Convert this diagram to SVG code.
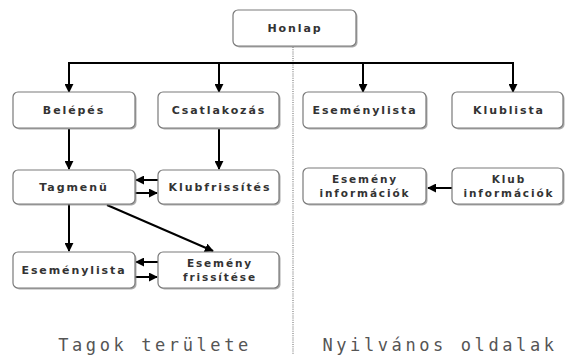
<svg xmlns="http://www.w3.org/2000/svg" width="566" height="357" viewBox="0 0 566 357">
<style>
.sh{fill:#8a8a8a;opacity:0.7}
.bx{fill:#fff;stroke:#7a7a7a;stroke-width:1.2}
.t{font-family:"DejaVu Sans",sans-serif;font-weight:bold;font-size:11px;fill:#333;text-anchor:middle;letter-spacing:1.9px}
.ts{font-family:"DejaVu Sans",sans-serif;font-weight:bold;font-size:10.5px;fill:#333;text-anchor:middle;letter-spacing:1.9px}
.c{stroke:#000;stroke-width:2;fill:none}
.big{font-family:"DejaVu Sans Mono",monospace;font-size:17px;fill:#555;text-anchor:middle;letter-spacing:3.6px}
</style>
<defs>
<marker id="ah" viewBox="0 0 10 10" refX="9" refY="5" markerWidth="4.5" markerHeight="4.5" orient="auto" markerUnits="strokeWidth">
<path d="M0,0 L10,5 L0,10 z" fill="#000"/>
</marker>
</defs>
<rect width="566" height="357" fill="#fff"/>
<line x1="293" y1="47" x2="293" y2="355" stroke="#999" stroke-width="1.5" stroke-dasharray="1,1.2"/>
<g id="connectors">
<path class="c" d="M69,92 V63 H513 V92" marker-end="url(#ah)"/>
<path class="c" d="M69,63 V92" marker-end="url(#ah)"/>
<path class="c" d="M219,63 V92" marker-end="url(#ah)"/>
<path class="c" d="M363,63 V92" marker-end="url(#ah)"/>
<path class="c" d="M69,129 V169" marker-end="url(#ah)"/>
<path class="c" d="M219,129 V169" marker-end="url(#ah)"/>
<path class="c" d="M158,180 H136" marker-end="url(#ah)"/>
<path class="c" d="M135,193 H157" marker-end="url(#ah)"/>
<path class="c" d="M69,204 V251" marker-end="url(#ah)"/>
<path class="c" d="M107,205 L213,251" marker-end="url(#ah)"/>
<path class="c" d="M158,262 H136" marker-end="url(#ah)"/>
<path class="c" d="M135,277 H157" marker-end="url(#ah)"/>
<path class="c" d="M452,188 H428" marker-end="url(#ah)"/>
</g>
<g id="honlap"><rect class="sh" x="234.5" y="11.5" width="123" height="36" rx="5"/><rect class="bx" x="233" y="10" width="123" height="36" rx="5"/><text class="t" x="295" y="32">Honlap</text></g>
<g id="belepes"><rect class="sh" x="14.5" y="93.5" width="122" height="36" rx="5"/><rect class="bx" x="13" y="92" width="122" height="36" rx="5"/><text class="t" x="74" y="114">Belépés</text></g>
<g id="csatlakozas"><rect class="sh" x="159.5" y="93.5" width="121" height="36" rx="5"/><rect class="bx" x="158" y="92" width="121" height="36" rx="5"/><text class="t" x="219" y="114">Csatlakozás</text></g>
<g id="esemenylista-pub"><rect class="sh" x="304.5" y="93.5" width="123" height="36" rx="5"/><rect class="bx" x="303" y="92" width="123" height="36" rx="5"/><text class="t" x="365" y="114">Eseménylista</text></g>
<g id="klublista"><rect class="sh" x="453.5" y="93.5" width="111" height="36" rx="5"/><rect class="bx" x="452" y="92" width="111" height="36" rx="5"/><text class="t" x="509" y="114">Klublista</text></g>
<g id="tagmenu"><rect class="sh" x="14.5" y="171.5" width="122" height="34" rx="5"/><rect class="bx" x="13" y="170" width="122" height="34" rx="5"/><text class="t" x="74" y="191">Tagmenü</text></g>
<g id="klubfrissites"><rect class="sh" x="159.5" y="171.5" width="121" height="34" rx="5"/><rect class="bx" x="158" y="170" width="121" height="34" rx="5"/><text class="t" x="220" y="191">Klubfrissítés</text></g>
<g id="esemeny-info"><rect class="sh" x="304.5" y="169.5" width="123" height="36" rx="5"/><rect class="bx" x="303" y="168" width="123" height="36" rx="5"/><text class="ts" x="365" y="183">Esemény</text><text class="ts" x="365" y="197">információk</text></g>
<g id="klub-info"><rect class="sh" x="453.5" y="169.5" width="111" height="36" rx="5"/><rect class="bx" x="452" y="168" width="111" height="36" rx="5"/><text class="ts" x="509" y="183">Klub</text><text class="ts" x="509" y="197">információk</text></g>
<g id="esemenylista-tag"><rect class="sh" x="14.5" y="253.5" width="122" height="36" rx="5"/><rect class="bx" x="13" y="252" width="122" height="36" rx="5"/><text class="t" x="74" y="274">Eseménylista</text></g>
<g id="esemeny-frissitese"><rect class="sh" x="159.5" y="253.5" width="121" height="36" rx="5"/><rect class="bx" x="158" y="252" width="121" height="36" rx="5"/><text class="ts" x="220" y="267">Esemény</text><text class="ts" x="220" y="281">frissítése</text></g>
<text class="big" x="155" y="351">Tagok területe</text>
<text class="big" x="440" y="351">Nyilvános oldalak</text>
</svg>
